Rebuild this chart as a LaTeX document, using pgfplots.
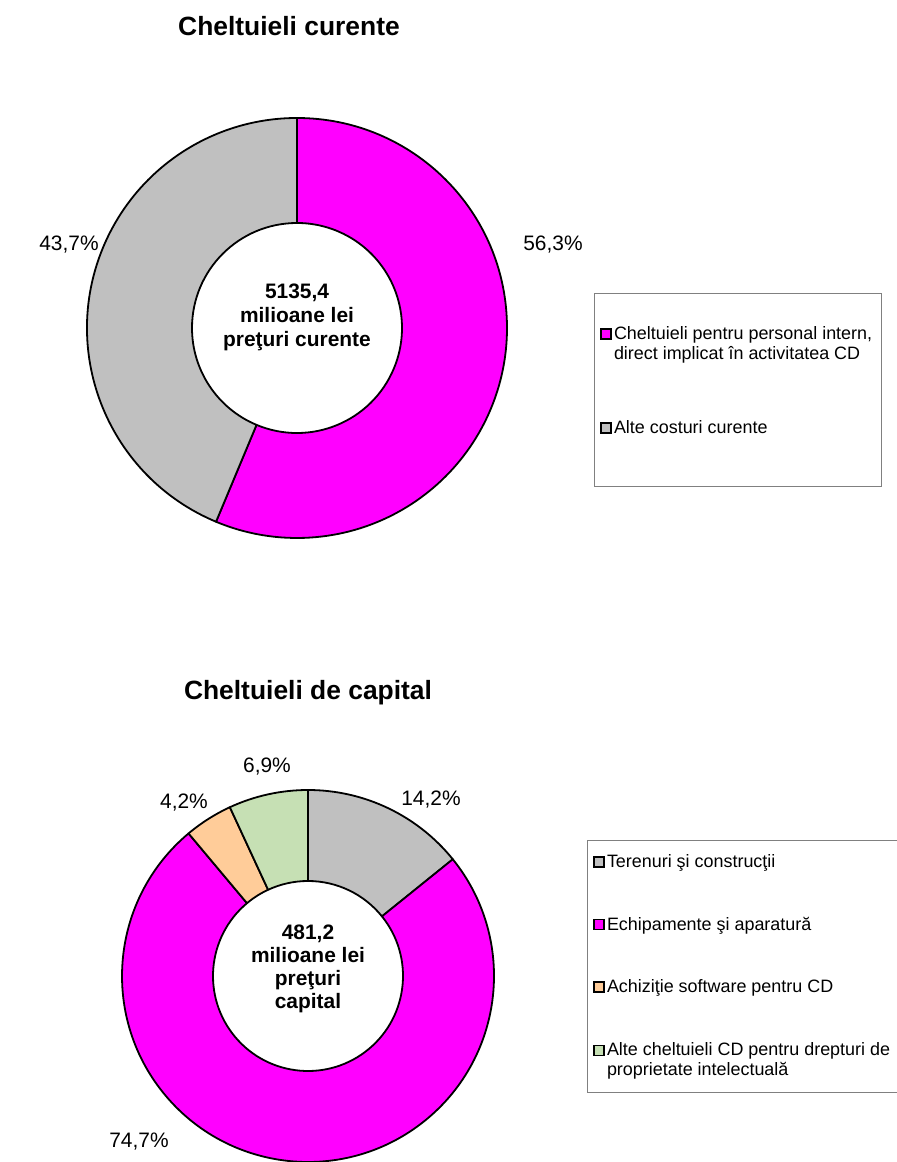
\documentclass[border=0pt]{standalone}
\usepackage{pgfplots}
\pgfplotsset{compat=1.18}
\usepackage{pgfplotstable}
\usepackage{fontspec}
\setmainfont{Liberation Sans}
\definecolor{pmag}{HTML}{FF00FF}
\definecolor{pgray}{HTML}{C0C0C0}
\definecolor{porange}{HTML}{FFCC99}
\definecolor{pgreen}{HTML}{C6E0B4}
\definecolor{lborder}{HTML}{808080}

\pgfplotstableread{
value color
56.3 pmag
43.7 pgray
}\curtab
\pgfplotstableread{
value color
14.2 pgray
74.7 pmag
4.2 porange
6.9 pgreen
}\captab

% #1 table, #2 cx, #3 cy, #4 outer radius, #5 inner radius (axis units = bp)
\newcommand\drawdonut[5]{%
  \pgfplotstablegetrowsof{#1}%
  \pgfmathtruncatemacro\lastrow{\pgfplotsretval-1}%
  \def\angA{90}%
  \pgfplotsforeachungrouped \k in {0,...,\lastrow}{%
    \pgfplotstablegetelem{\k}{value}\of#1\let\val\pgfplotsretval
    \pgfplotstablegetelem{\k}{color}\of#1\let\col\pgfplotsretval
    \pgfmathsetmacro\angB{\angA-3.6*\val}%
    \pgfmathsetmacro\xa{#2+#4*cos(\angA)}%
    \pgfmathsetmacro\ya{#3+#4*sin(\angA)}%
    \pgfmathsetmacro\xb{#2+#5*cos(\angB)}%
    \pgfmathsetmacro\yb{#3+#5*sin(\angB)}%
    \edef\temp{\noexpand\filldraw[fill=\col,draw=black,line width=1.8bp,line join=round] (axis cs:\xa,\ya) arc[start angle=\angA,end angle=\angB,radius=#4bp] -- (axis cs:\xb,\yb) arc[start angle=\angB,end angle=\angA,radius=#5bp] -- cycle;}%
    \temp
    \let\angA\angB
  }%
}

% #1 width, #2 first line, #3 second line
\newcommand\twoline[3]{\begin{tabular}[t]{@{}l@{}}\makebox[#1][l]{#2}\\#3\end{tabular}}

\pgfplotsset{
  donutaxis/.style={
    at={(0,0)}, anchor=south west, scale only axis,
    width=897bp, height=1162bp,
    xmin=0, xmax=897, ymin=0, ymax=1162,
    enlargelimits=false, hide axis, clip=false,
    legend style={draw=lborder, line width=0.8bp, fill=white,
      font=\fontsize{18}{20}\selectfont,
      cells={anchor=base west},
      inner xsep=6bp},
  },
  % #1 colour, #2 extra depth below the baseline (room for a second line)
  sq/.style 2 args={legend image code/.code={%
      \path (0bp,-#2) (0bp,0bp);
      \filldraw[fill=#1,draw=black,line width=1.6bp] (0bp,0.5bp) rectangle (10bp,10.5bp);}},
}

\begin{document}
\begin{tikzpicture}
\useasboundingbox (0,0) rectangle (897bp,1162bp);
\clip (0,0) rectangle (897bp,1162bp);
% ---------------- Cheltuieli curente ----------------
\begin{axis}[donutaxis,
  legend style={at={(axis cs:594,869)}, anchor=north west, inner ysep=30bp, row sep=55bp}]
\addlegendimage{sq={pmag}{24bp}}
\addlegendentry{\twoline{259bp}{Cheltuieli pentru personal intern,}{direct implicat în activitatea CD}}
\addlegendimage{sq={pgray}{22bp}}
\addlegendentry{Alte costuri curente}
\drawdonut{\curtab}{297}{834}{210}{105}
\node[font=\bfseries\fontsize{26.5}{30}\selectfont] at (axis cs:289,1136) {Cheltuieli curente};
\node[font=\bfseries\fontsize{21}{24}\selectfont, align=center] at (axis cs:297,845) {5135,4\\milioane lei\\preţuri curente};
\node[font=\fontsize{21}{24}\selectfont] at (axis cs:69,917) {43,7\%};
\node[font=\fontsize{21}{24}\selectfont] at (axis cs:553,917) {56,3\%};
\end{axis}
% ---------------- Cheltuieli de capital ----------------
\begin{axis}[donutaxis,
  legend style={at={(axis cs:587,322)}, anchor=north west, inner ysep=12bp, row sep=44bp}]
\addlegendimage{sq={pgray}{0bp}}
\addlegendentry{Terenuri şi construcţii}
\addlegendimage{sq={pmag}{0bp}}
\addlegendentry{Echipamente şi aparatură}
\addlegendimage{sq={porange}{0bp}}
\addlegendentry{Achiziţie software pentru CD}
\addlegendimage{sq={pgreen}{24bp}}
\addlegendentry{\twoline{300bp}{Alte cheltuieli CD pentru drepturi de}{proprietate intelectuală}}
\drawdonut{\captab}{308}{186}{186}{95}
\node[font=\bfseries\fontsize{26.5}{30}\selectfont] at (axis cs:308,469) {Cheltuieli de capital};
\node[font=\bfseries\fontsize{21}{23}\selectfont, align=center] at (axis cs:308,193) {481,2\\milioane lei\\preţuri\\capital};
\node[font=\fontsize{21}{24}\selectfont] at (axis cs:267,395) {6,9\%};
\node[font=\fontsize{21}{24}\selectfont] at (axis cs:184,359) {4,2\%};
\node[font=\fontsize{21}{24}\selectfont] at (axis cs:431,362) {14,2\%};
\node[font=\fontsize{21}{24}\selectfont] at (axis cs:139,20) {74,7\%};
\end{axis}
\end{tikzpicture}
\end{document}
